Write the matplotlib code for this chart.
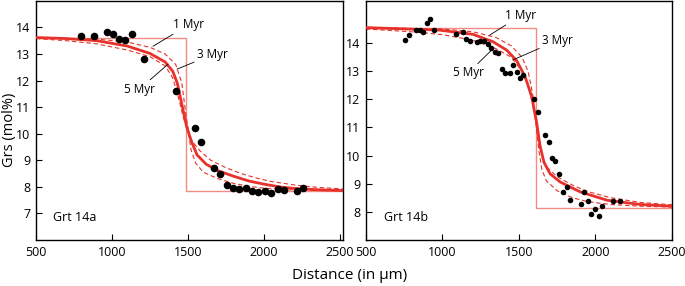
import numpy as np
import matplotlib.pyplot as plt

plt.rcParams['font.family'] = ['Open Sans', 'DejaVu Sans']

# ---- Grt 14a (left panel) ----
a_dist = [796, 879, 965, 1004, 1046, 1088, 1132, 1212, 1423, 1546, 1588, 1673, 1713,
          1757, 1798, 1838, 1880, 1923, 1963, 2007, 2048, 2090, 2132, 2215, 2255]
a_grs = [13.67, 13.67, 13.84, 13.74, 13.58, 13.51, 13.76, 12.80, 11.61, 10.21, 9.68, 8.71, 8.49,
         8.06, 7.97, 7.91, 7.97, 7.85, 7.81, 7.85, 7.77, 7.93, 7.87, 7.83, 7.97]

a_step_x = [500, 1490, 1490, 2520]
a_step_y = [13.6, 13.6, 7.85, 7.85]

a_3_x = [500, 700, 900, 1100, 1250, 1350, 1400, 1430, 1460, 1490, 1520, 1560, 1620, 1700,
         1800, 1900, 2000, 2100, 2200, 2350, 2520]
a_3_y = [13.62, 13.58, 13.50, 13.30, 13.02, 12.70, 12.35, 11.90, 11.10, 10.30, 9.75, 9.20, 8.85, 8.60,
         8.40, 8.22, 8.10, 8.00, 7.94, 7.89, 7.86]

a_1_x = [500, 900, 1100, 1250, 1350, 1420, 1460, 1480, 1500, 1520, 1550, 1600, 1700, 1800,
         1900, 2000, 2200, 2520]
a_1_y = [13.60, 13.56, 13.45, 13.25, 13.00, 12.60, 11.90, 11.00, 10.20, 9.40, 8.90, 8.55, 8.30, 8.13,
         8.02, 7.95, 7.88, 7.85]

a_5_x = [500, 700, 900, 1100, 1250, 1350, 1400, 1440, 1470, 1500, 1530, 1580, 1650, 1750,
         1850, 1950, 2050, 2200, 2350, 2520]
a_5_y = [13.58, 13.50, 13.38, 13.15, 12.90, 12.55, 12.10, 11.30, 10.60, 10.10, 9.70, 9.35, 9.00, 8.72,
         8.50, 8.33, 8.20, 8.07, 7.98, 7.92]

# ---- Grt 14b (right panel) ----
b_dist = [756, 781, 827, 851, 875, 899, 921, 947, 1088, 1132, 1156, 1180, 1224, 1248, 1272,
          1296, 1320, 1344, 1366, 1388, 1412, 1439, 1461, 1485, 1507, 1529, 1601, 1623,
          1671, 1695, 1717, 1739, 1763, 1787, 1811, 1836, 1903, 1928, 1952, 1974, 1998,
          2022, 2046, 2114, 2160]
b_grs = [14.10, 14.27, 14.47, 14.45, 14.40, 14.71, 14.87, 14.47, 14.33, 14.41, 14.13, 14.07, 14.05,
         14.07, 14.08, 13.96, 13.81, 13.68, 13.66, 13.06, 12.92, 12.95, 13.21, 12.98, 12.74, 12.85,
         12.02, 11.56, 10.73, 10.47, 9.92, 9.80, 9.35, 8.71, 8.87, 8.41, 8.27, 8.71, 8.38, 7.94,
         8.10, 7.86, 8.20, 8.38, 8.40]

b_step_x = [500, 1610, 1610, 2500]
b_step_y = [14.55, 14.55, 8.15, 8.15]

b_3_x = [500, 980, 1200, 1330, 1420, 1485, 1540, 1583, 1616, 1638, 1664, 1704, 1770, 1900,
         2077, 2296, 2500]
b_3_y = [14.55, 14.46, 14.31, 14.05, 13.75, 13.38, 12.81, 12.11, 11.17, 10.35, 9.76, 9.35, 9.06, 8.71,
         8.41, 8.26, 8.20]

b_1_x = [500, 1000, 1200, 1350, 1450, 1520, 1560, 1590, 1610, 1630, 1650, 1680, 1750, 1850,
         1950, 2100, 2300, 2500]
b_1_y = [14.55, 14.50, 14.40, 14.20, 13.90, 13.50, 13.00, 12.20, 11.20, 10.20, 9.50, 9.10, 8.75, 8.50,
         8.36, 8.26, 8.20, 8.17]

b_5_x = [500, 800, 1000, 1200, 1350, 1450, 1520, 1560, 1600, 1625, 1650, 1680, 1750, 1850,
         1950, 2100, 2300, 2500]
b_5_y = [14.50, 14.40, 14.30, 14.10, 13.80, 13.50, 13.00, 12.50, 11.60, 10.70, 10.00, 9.60, 9.25, 8.95,
         8.72, 8.50, 8.33, 8.25]

RED = '#e8312a'
STEP = '#f28b82'


def draw_panel(ax, dist, grs, step_x, step_y, c3x, c3y, c1x, c1y, c5x, c5y, msize):
    ax.plot(step_x, step_y, color=STEP, lw=1.0, zorder=1)
    ax.plot(c1x, c1y, color=RED, lw=0.8, ls=(0, (4, 2.5)), zorder=2)
    ax.plot(c5x, c5y, color=RED, lw=0.8, ls=(0, (4, 2.5)), zorder=2)
    ax.plot(c3x, c3y, color=RED, lw=2.0, zorder=3)
    ax.scatter(dist, grs, s=msize, color='black', zorder=4, linewidths=0)
    ax.tick_params(direction='in', length=4, width=0.8, labelsize=9, pad=4)
    for sp in ax.spines.values():
        sp.set_linewidth(1.0)


def myr_label(ax, text, xy, xytext, ha, va):
    ax.annotate(text, xy=xy, xytext=xytext, fontsize=8.5, ha=ha, va=va,
                arrowprops=dict(arrowstyle='-', color='black', lw=0.6, shrinkA=0, shrinkB=0))


fig = plt.figure(figsize=(6.85, 2.86), dpi=100)
ax1 = fig.add_axes([0.0526, 0.161, 0.448, 0.836])
ax2 = fig.add_axes([0.534, 0.161, 0.447, 0.836])

draw_panel(ax1, a_dist, a_grs, a_step_x, a_step_y, a_3_x, a_3_y, a_1_x, a_1_y, a_5_x, a_5_y, 30)
ax1.set_xlim(500, 2520)
ax1.set_ylim(6, 15)
ax1.set_xticks([500, 1000, 1500, 2000, 2500])
ax1.set_yticks(range(7, 15))
ax1.set_ylabel('Grs (mol%)', fontsize=10.5)
ax1.yaxis.set_label_coords(-0.062, 0.46)
ax1.text(0.055, 0.08, 'Grt 14a', transform=ax1.transAxes, fontsize=9)
myr_label(ax1, '1 Myr', (1270, 13.29), (1401, 13.85), 'left', 'bottom')
myr_label(ax1, '3 Myr', (1428, 12.43), (1559, 12.73), 'left', 'bottom')
myr_label(ax1, '5 Myr', (1368, 12.61), (1283, 11.68), 'right', 'center')

draw_panel(ax2, b_dist, b_grs, b_step_x, b_step_y, b_3_x, b_3_y, b_1_x, b_1_y, b_5_x, b_5_y, 16)
ax2.set_xlim(500, 2500)
ax2.set_ylim(7, 15.5)
ax2.set_xticks([500, 1000, 1500, 2000, 2500])
ax2.set_yticks(range(8, 15))
ax2.text(0.06, 0.08, 'Grt 14b', transform=ax2.transAxes, fontsize=9)
myr_label(ax2, '1 Myr', (1309, 14.28), (1408, 14.74), 'left', 'bottom')
myr_label(ax2, '3 Myr', (1461, 13.4), (1651, 13.86), 'left', 'bottom')
myr_label(ax2, '5 Myr', (1322, 13.75), (1270, 12.94), 'right', 'center')

fig.text(0.511, 0.035, 'Distance (in µm)', ha='center', va='center', fontsize=11)

fig.savefig('out.png', dpi=100)
